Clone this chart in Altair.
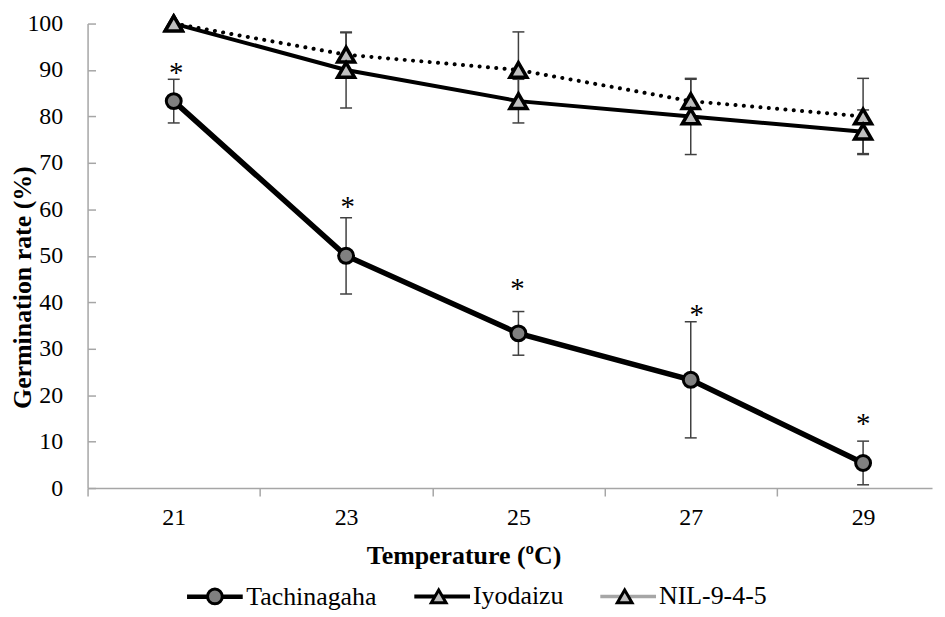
import altair as alt
import pandas as pd

# ---------------- data ----------------
temps = [21, 23, 25, 27, 29]
series_names = ["Tachinagaha", "Iyodaizu", "NIL-9-4-5"]
tachinagaha = [83.3, 50.0, 33.3, 23.3, 5.4]
tachinagaha_err = [4.7, 8.2, 4.7, 12.5, 4.7]
iyodaizu = [100.0, 90.0, 83.3, 80.0, 76.7]
iyodaizu_err = [0.0, 8.2, 4.7, 8.2, 4.7]
nil = [100.0, 93.3, 90.0, 83.3, 80.0]
nil_err = [0.0, 4.7, 8.2, 4.7, 8.2]
star_x = [21.03, 23.02, 24.99, 27.07, 29.0]
star_y = [89.7, 61.0, 43.3, 37.7, 14.3]
y_tick_values = [0, 10, 20, 30, 40, 50, 60, 70, 80, 90, 100]
x_axis_values = [20, 21, 22, 23, 24, 25, 26, 27, 28, 29]

marker_shapes = ["circle", "triangle-up", "triangle-up"]
marker_fills = ["#808080", "#bfbfbf", "#bfbfbf"]
marker_sizes = [225, 290, 290]
marker_strokes = [3, 3.5, 3.5]
marker_legend_x = [115, 340, 527]

rows = []
for name, vals, errs in zip(series_names, [tachinagaha, iyodaizu, nil],
                            [tachinagaha_err, iyodaizu_err, nil_err]):
    for t, v, e in zip(temps, vals, errs):
        rows.append({"series": name, "temp": t, "value": v,
                     "err": e, "lo": v - e, "hi": v + e})
df = pd.DataFrame(rows)
stars = pd.DataFrame({"sx": star_x, "sy": star_y})

FONT = "Liberation Serif"
AX = "#a6a6a6"
EB = "#404040"

x_axis = alt.Axis(
    values=x_axis_values, title="Temperature (ºC)", grid=False,
    labelExpr="datum.value % 2 == 1 ? datum.label : ''",
    tickOpacity={"condition": {"test": "datum.value % 2 == 1", "value": 0}, "value": 1},
    tickSize=8, tickWidth=1.5, tickColor=AX, domainColor=AX, domainWidth=1.5,
    labelPadding=10, labelFontSize=24, labelFont=FONT, labelColor="black",
    labelFlush=False, labelOverlap=False,
    titleFont=FONT, titleFontSize=26, titleFontWeight="bold", titleColor="black",
    titleX=378, titleY=68, titleBaseline="middle",
)
y_axis = alt.Axis(
    values=y_tick_values, title="Germination rate (%)", grid=False,
    ticks=False, tickSize=0, domainColor=AX, domainWidth=1.5, orient="left",
    labelPadding=25, labelFontSize=24, labelFont=FONT, labelColor="black",
    labelFlush=False,
    titleFont=FONT, titleFontSize=26, titleFontWeight="bold", titleColor="black",
    titleX=-65, titleY=265, titleBaseline="middle",
)
x_scale = alt.Scale(domain=[20, 29.8], nice=False, zero=False)
y_scale = alt.Scale(domain=[0, 100], nice=False)

X = alt.X("temp:Q", scale=x_scale, axis=x_axis)
Y = alt.Y("value:Q", scale=y_scale, axis=y_axis)

base = alt.Chart(df)
err_df = base.transform_filter("datum.err > 0")

err_rule = err_df.mark_rule(color=EB, strokeWidth=1.5).encode(
    x=X, y=alt.Y("lo:Q", scale=y_scale, axis=y_axis), y2="hi:Q")
cap_lo = err_df.mark_tick(orient="horizontal", size=12, thickness=1.5, color=EB, opacity=1).encode(
    x=X, y=alt.Y("lo:Q", scale=y_scale, axis=y_axis))
cap_hi = err_df.mark_tick(orient="horizontal", size=12, thickness=1.5, color=EB, opacity=1).encode(
    x=X, y=alt.Y("hi:Q", scale=y_scale, axis=y_axis))

line_t = base.transform_filter(alt.datum.series == "Tachinagaha").mark_line(
    color="black", strokeWidth=5.5).encode(x=X, y=Y)
line_i = base.transform_filter(alt.datum.series == "Iyodaizu").mark_line(
    color="black", strokeWidth=4).encode(x=X, y=Y)
line_n = base.transform_filter(alt.datum.series == "NIL-9-4-5").mark_line(
    color="black", strokeWidth=4, strokeDash=[0.1, 8.3], strokeCap="round").encode(x=X, y=Y)

# legend of the lines (drawn underneath the marker legends)
line_legend = alt.Legend(orient="none", legendX=97.5, legendY=545.5, zindex=1,
                         direction="horizontal", title=None,
                         symbolType="stroke", symbolSize=3136,
                         labelFontSize=26, labelFont=FONT, labelColor="black",
                         labelOffset=1, columnPadding=30, padding=0)
legend_layer = base.transform_filter("false").mark_line().encode(
    x=X, y=Y,
    color=alt.Color("series:N", scale=alt.Scale(domain=series_names,
                    range=["black", "black", "#a6a6a6"]), legend=line_legend),
    strokeWidth=alt.StrokeWidth("series:O", scale=alt.Scale(domain=series_names,
                                range=[4.5, 3.5, 4.5]), legend=line_legend),
)

# one point layer per series, each with its own one-entry marker legend (no label text)
point_layers = []
for name, shp, fil, sz, sw, lx in zip(series_names, marker_shapes, marker_fills,
                                      marker_sizes, marker_strokes, marker_legend_x):
    leg = alt.Legend(orient="none", legendX=lx, legendY=563, zindex=2,
                     direction="horizontal", title=None,
                     symbolSize=220, symbolStrokeWidth=3,
                     labelFontSize=26, labelFont=FONT, labelExpr="''",
                     labelOffset=4, padding=0)
    point_layers.append(
        base.transform_filter(alt.datum.series == name).mark_point(
            filled=True, size=sz, strokeWidth=sw, opacity=1).encode(
            x=X, y=Y,
            shape=alt.Shape("series:N", scale=alt.Scale(domain=[name], range=[shp]), legend=leg),
            fill=alt.Fill("series:N", scale=alt.Scale(domain=[name], range=[fil]), legend=leg),
            stroke=alt.Stroke("series:N", scale=alt.Scale(domain=[name], range=["black"]), legend=leg),
        )
    )

star_layer = alt.Chart(stars).mark_text(
    text="*", font=FONT, fontSize=29, color="black", baseline="middle", dy=2).encode(
    x=alt.X("sx:Q", scale=x_scale, axis=x_axis),
    y=alt.Y("sy:Q", scale=y_scale, axis=y_axis))

inner = alt.layer(legend_layer, err_rule, cap_lo, cap_hi, line_i, line_n, line_t,
                  point_layers[2], point_layers[1], point_layers[0], star_layer
                  ).resolve_scale(shape="independent", fill="independent", stroke="independent")

tick_axis = alt.Axis(values=y_tick_values, orient="left", offset=-8, tickSize=8,
                     tickWidth=1.5, tickColor=AX, labels=False, domain=False,
                     title="", grid=False)
tick_layer = base.mark_point(opacity=0).encode(
    x=X, y=alt.Y("value:Q", scale=y_scale, axis=tick_axis))

chart = alt.layer(inner, tick_layer).resolve_scale(y="independent").properties(
    width=849, height=467,
    autosize=alt.AutoSizeParams(type="none"),
    padding={"left": 80, "top": 14, "right": 5, "bottom": 126},
    background="white",
).configure_view(stroke=None)

chart.save("out.html", embed_options={"renderer": "svg", "actions": False})
